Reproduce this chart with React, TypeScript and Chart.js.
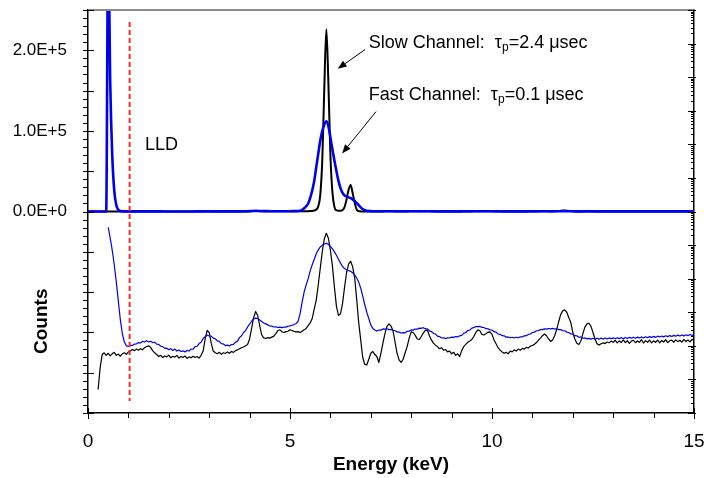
import { useEffect, useRef } from 'react';
import { Chart, registerables } from 'chart.js';

Chart.register(...registerables);

// Spectrum channels are 0.05 keV wide, starting at 0 keV.
const ENERGY_STEP_KEV = 0.05;

// Slow channel (shaping time 2.4 µs), counts per channel, 0.00 … 15.00 keV
const slowCounts = [
  0, 0, 0, 0, 0, 5, 22, 55, 62, 52, // 0.00
  60, 50, 58, 64, 52, 57, 49, 58, 62, 56, // 0.50
  66, 70, 78, 72, 80, 74, 82, 76, 88, 95, // 1.00
  100, 90, 72, 62, 55, 48, 52, 45, 50, 47, // 1.50
  53, 44, 49, 46, 52, 43, 48, 45, 50, 42, // 2.00
  47, 44, 49, 45, 48, 43, 52, 70, 160, 290, // 2.50
  250, 120, 70, 62, 58, 64, 56, 62, 59, 66, // 3.00
  60, 68, 64, 72, 76, 82, 88, 92, 100, 110, // 3.50
  160, 330, 700, 1050, 800, 400, 210, 172, 165, 175, // 4.00
  170, 182, 195, 230, 285, 300, 262, 250, 265, 272, // 4.50
  300, 285, 270, 260, 265, 250, 270, 300, 330, 400, // 5.00
  480, 650, 1250, 2300, 6600, 21000, 65000, 155000, 226000, 160000, // 5.50
  70000, 24000, 5500, 1500, 800, 900, 1800, 5500, 15000, 27000, // 6.00
  33000, 23000, 11000, 2500, 500, 150, 45, 28, 27, 40, // 6.50
  60, 68, 55, 48, 32, 60, 120, 230, 380, 450, // 7.00
  390, 280, 130, 60, 38, 32, 40, 62, 95, 170, // 7.50
  260, 250, 205, 160, 155, 190, 240, 290, 295, 200, // 8.00
  150, 120, 105, 95, 82, 88, 74, 78, 66, 70, // 8.50
  58, 64, 52, 58, 48, 72, 95, 110, 128, 140, // 9.00
  155, 190, 250, 300, 280, 220, 210, 230, 255, 260, // 9.50
  220, 150, 115, 88, 74, 66, 60, 64, 58, 70, // 10.00
  66, 76, 70, 80, 74, 84, 80, 90, 86, 98, // 10.50
  102, 112, 125, 148, 170, 200, 225, 200, 160, 135, // 11.00
  150, 200, 300, 520, 850, 1100, 1180, 1000, 700, 500, // 11.50
  250, 160, 120, 110, 140, 230, 360, 450, 470, 380, // 12.00
  250, 160, 115, 105, 115, 122, 118, 130, 124, 138, // 12.50
  128, 146, 122, 140, 126, 150, 124, 142, 119, 138, // 13.00
  146, 124, 140, 127, 152, 121, 143, 128, 147, 123, // 13.50
  141, 126, 149, 122, 145, 130, 153, 125, 142, 148, // 14.00
  128, 151, 133, 146, 129, 155, 134, 149, 131, 156, // 14.50
  142, // 15.00
];

// Fast channel (shaping time 0.1 µs), counts per channel, 0.00 … 15.00 keV
const fastCounts = [
  0, 0, 0, 0, 0, 0, 0, 0, 0, 0, // 0.00
  340000, 160000, 70000, 26000, 8000, 2200, 600, 230, 130, 100, // 0.50
  96, 104, 103, 113, 115, 125, 122, 136, 130, 141, // 1.00
  130, 137, 125, 128, 112, 111, 97, 95, 84, 85, // 1.50
  77, 82, 73, 80, 70, 75, 68, 71, 66, 73, // 2.00
  70, 80, 79, 95, 97, 117, 128, 165, 186, 210, // 2.50
  196, 194, 170, 162, 141, 136, 116, 114, 102, 105, // 3.00
  99, 109, 111, 128, 138, 175, 200, 250, 284, 365, // 3.50
  440, 540, 630, 670, 650, 590, 530, 480, 450, 420, // 4.00
  390, 386, 364, 368, 352, 361, 349, 364, 359, 386, // 4.50
  395, 410, 430, 460, 540, 900, 2000, 4000, 6500, 10000, // 5.00
  17000, 26000, 38000, 55000, 72000, 88000, 100000, 108000, 112000, 106000, // 5.50
  92000, 77000, 63000, 50000, 38000, 29000, 23000, 20000, 18500, 17500, // 6.00
  16500, 15000, 13000, 10500, 8000, 5200, 3000, 1700, 1000, 650, // 6.50
  420, 330, 295, 275, 296, 294, 318, 313, 322, 303, // 7.00
  306, 288, 286, 259, 256, 240, 246, 244, 271, 274, // 7.50
  297, 294, 317, 313, 337, 333, 347, 324, 316, 280, // 8.00
  266, 234, 225, 195, 189, 171, 174, 164, 174, 171, // 8.50
  182, 178, 189, 184, 199, 205, 235, 250, 286, 294, // 9.00
  336, 348, 377, 372, 382, 353, 351, 324, 321, 299, // 9.50
  296, 264, 256, 225, 220, 200, 199, 181, 184, 174, // 10.00
  180, 171, 180, 174, 186, 184, 199, 201, 219, 225, // 10.50
  250, 255, 281, 284, 306, 304, 321, 314, 328, 319, // 11.00
  331, 316, 324, 304, 306, 284, 281, 255, 250, 225, // 11.50
  222, 201, 199, 181, 182, 168, 172, 161, 167, 158, // 12.00
  168, 157, 169, 158, 170, 159, 171, 160, 172, 162, // 12.50
  173, 162, 174, 164, 176, 163, 178, 165, 179, 168, // 13.00
  181, 169, 182, 172, 184, 171, 186, 175, 188, 178, // 13.50
  191, 179, 194, 183, 196, 185, 199, 188, 202, 190, // 14.00
  205, 193, 208, 196, 211, 198, 214, 201, 217, 204, // 14.50
  215, // 15.00
];

// Lower level discriminator setting and the extent of its marker line
const LLD_KEV = 1.03;
const LLD_SPAN_COUNTS = [235000, -235000];

// Axis ranges: the left axis is linear, the right one logarithmic; both share the plot height
const X_RANGE_KEV = [0, 15];
const LIN_RANGE = [-250000, 250000];
const LOG_RANGE = [1, 1e12];

const FONT = '"Liberation Sans", Arial, Helvetica, sans-serif';
const BLUE = 'rgb(0,0,240)';
const BLACK = '#000000';

type Annotation = {
  parts: [string, boolean][];
  text: [number, number];
  tail?: [number, number];
  head?: [number, number];
};

// Labels placed in data coordinates (keV, linear counts)
const annotations: Annotation[] = [
  {
    parts: [['Slow Channel:  τ', false], ['p', true], ['=2.4 μsec', false]],
    text: [6.95, 209000],
    tail: [6.86, 201000],
    head: [6.18, 177000],
  },
  {
    parts: [['Fast Channel:  τ', false], ['p', true], ['=0.1 μsec', false]],
    text: [6.95, 144500],
    tail: [7.13, 124000],
    head: [6.29, 72000],
  },
  { parts: [['LLD', false]], text: [1.41, 82000] },
];

const energies = slowCounts.map((_, i) => Math.round(i * ENERGY_STEP_KEV * 100) / 100);

const linPoints = (counts: number[]) => counts.map((c, i) => ({ x: energies[i], y: c }));
const logPoints = (counts: number[]) =>
  counts.map((c, i) => ({ x: energies[i], y: c > 0 ? c : null }));

const fmtLin = (v: number) => {
  if (v < 0 || Math.abs(v % 100000) > 1) return '';
  return v === 0 ? '0.0E+0' : `${(v / 100000).toFixed(1)}E+5`;
};

// Fix each axis box size and drop the label overhang padding Chart.js reserves
const fixBox = (w?: number, h?: number) => (s: any) => {
  if (w !== undefined) s.width = w;
  if (h !== undefined) s.height = h;
  s.paddingTop = 0;
  s.paddingBottom = 0;
  s.paddingLeft = 0;
  s.paddingRight = 0;
};

const decorations = {
  id: 'decorations',
  afterDatasetsDraw(chart: any) {
    const { ctx, chartArea: a } = chart;
    const xs = chart.scales.x;
    const yl = chart.scales.yLin;
    const yg = chart.scales.yLog;
    const seg = (x1: number, y1: number, x2: number, y2: number) => {
      ctx.beginPath();
      ctx.moveTo(x1, y1);
      ctx.lineTo(x2, y2);
      ctx.stroke();
    };
    ctx.save();

    // top frame line
    ctx.strokeStyle = '#8c8c8c';
    ctx.lineWidth = 2;
    seg(a.left, a.top, a.right, a.top);

    ctx.strokeStyle = BLACK;
    ctx.lineWidth = 1;

    // left linear axis: majors every 5E+4, minors every 1E+4
    for (let k = LIN_RANGE[0] / 10000; k <= LIN_RANGE[1] / 10000; k++) {
      const y = Math.round(yl.getPixelForValue(k * 10000)) + 0.5;
      if (k % 5 === 0) seg(a.left - 5, y, a.left + 6, y);
      else seg(a.left - 5, y, a.left, y);
    }

    // right logarithmic axis: decades and 2..9 minors
    const decades = Math.round(Math.log10(LOG_RANGE[1] / LOG_RANGE[0]));
    for (let d = 0; d <= decades; d++) {
      const base = LOG_RANGE[0] * Math.pow(10, d);
      const y = Math.round(yg.getPixelForValue(base)) + 0.5;
      seg(a.right - 6, y, a.right + 2, y);
      if (d < decades) {
        for (let m = 2; m <= 9; m++) {
          const ym = Math.round(yg.getPixelForValue(base * m)) + 0.5;
          seg(a.right - 3, ym, a.right, ym);
        }
      }
    }

    // energy axis: majors every 5 keV, minors every 1 keV
    for (let e = X_RANGE_KEV[0]; e <= X_RANGE_KEV[1]; e++) {
      const x = Math.round(xs.getPixelForValue(e)) + 0.5;
      if (e % 5 === 0) seg(x, a.bottom - 5, x, a.bottom + 6);
      else seg(x, a.bottom, x, a.bottom + 5);
    }

    // y-axis title, centred on the logarithmic half
    ctx.save();
    ctx.translate(42, (yl.getPixelForValue(0) + a.bottom) / 2 + 9);
    ctx.rotate(-Math.PI / 2);
    ctx.fillStyle = BLACK;
    ctx.font = `bold 19px ${FONT}`;
    ctx.textAlign = 'center';
    ctx.textBaseline = 'middle';
    ctx.fillText('Counts', 0, 0);
    ctx.restore();

    // text labels and arrows
    ctx.fillStyle = BLACK;
    ctx.textBaseline = 'middle';
    ctx.textAlign = 'left';
    for (const an of annotations) {
      let x = xs.getPixelForValue(an.text[0]);
      const y = yl.getPixelForValue(an.text[1]);
      for (const [s, sub] of an.parts) {
        ctx.font = sub ? `12px ${FONT}` : `18px ${FONT}`;
        ctx.fillText(s, x, sub ? y + 5 : y);
        x += ctx.measureText(s).width;
      }
      if (an.tail && an.head) {
        const x1 = xs.getPixelForValue(an.tail[0]);
        const y1 = yl.getPixelForValue(an.tail[1]);
        const x2 = xs.getPixelForValue(an.head[0]);
        const y2 = yl.getPixelForValue(an.head[1]);
        const ang = Math.atan2(y2 - y1, x2 - x1);
        const len = 9;
        const hw = 3.5;
        const bx = x2 - len * Math.cos(ang);
        const by = y2 - len * Math.sin(ang);
        ctx.lineWidth = 1;
        seg(x1, y1, bx, by);
        ctx.beginPath();
        ctx.moveTo(x2, y2);
        ctx.lineTo(bx + hw * Math.sin(ang), by - hw * Math.cos(ang));
        ctx.lineTo(bx - hw * Math.sin(ang), by + hw * Math.cos(ang));
        ctx.closePath();
        ctx.fill();
      }
    }
    ctx.restore();
  },
};

export default function App() {
  const canvasRef = useRef<HTMLCanvasElement>(null);

  useEffect(() => {
    const canvas = canvasRef.current;
    if (!canvas) return;

    // linear view: smooth peaks; log view: raw channel-to-channel segments
    const linStyle = {
      pointRadius: 0,
      fill: false,
      cubicInterpolationMode: 'monotone' as const,
      borderJoinStyle: 'round' as const,
    };
    const logStyle = {
      pointRadius: 0,
      fill: false,
      tension: 0,
      borderJoinStyle: 'round' as const,
    };

    const chart = new Chart(canvas, {
      type: 'line',
      data: {
        datasets: [
          {
            label: 'LLD',
            data: [
              { x: LLD_KEV, y: LLD_SPAN_COUNTS[0] },
              { x: LLD_KEV, y: LLD_SPAN_COUNTS[1] },
            ],
            yAxisID: 'yLin',
            borderColor: '#ff2626',
            borderWidth: 2,
            borderDash: [5, 3],
            pointRadius: 0,
            tension: 0,
          },
          {
            label: 'Fast Channel (linear)',
            data: linPoints(fastCounts),
            yAxisID: 'yLin',
            borderColor: BLUE,
            borderWidth: 2.6,
            ...linStyle,
          },
          {
            label: 'Slow Channel (linear)',
            data: linPoints(slowCounts),
            yAxisID: 'yLin',
            borderColor: BLACK,
            borderWidth: 2,
            ...linStyle,
          },
          {
            label: 'Fast Channel (log)',
            data: logPoints(fastCounts),
            yAxisID: 'yLog',
            borderColor: BLUE,
            borderWidth: 1.2,
            ...logStyle,
          },
          {
            label: 'Slow Channel (log)',
            data: logPoints(slowCounts),
            yAxisID: 'yLog',
            borderColor: BLACK,
            borderWidth: 1.2,
            ...logStyle,
          },
        ],
      },
      options: {
        animation: false,
        responsive: false,
        devicePixelRatio: 1,
        layout: { padding: { top: 10, left: 0, right: 0, bottom: 0 } },
        plugins: { legend: { display: false }, tooltip: { enabled: false } },
        scales: {
          x: {
            type: 'linear',
            position: 'bottom',
            min: X_RANGE_KEV[0],
            max: X_RANGE_KEV[1],
            afterFit: fixBox(undefined, 65),
            grid: { display: false, drawTicks: false },
            border: { display: true, color: BLACK, width: 1.5 },
            ticks: {
              stepSize: 5,
              autoSkip: false,
              maxRotation: 0,
              color: BLACK,
              padding: 17,
              font: { family: FONT, size: 19 },
            },
            title: {
              display: true,
              text: 'Energy (keV)',
              color: BLACK,
              font: { family: FONT, size: 19, weight: 'bold' },
              padding: { top: 0, bottom: 2 },
            },
          },
          yLin: {
            type: 'linear',
            position: 'left',
            min: LIN_RANGE[0],
            max: LIN_RANGE[1],
            afterFit: fixBox(88, undefined),
            grid: { display: false, drawTicks: false },
            border: { display: true, color: BLACK, width: 1.5 },
            ticks: {
              stepSize: 50000,
              autoSkip: false,
              color: BLACK,
              padding: 21,
              font: { family: FONT, size: 17 },
              callback: (v: any) => fmtLin(Number(v)),
            },
          },
          yLog: {
            type: 'logarithmic',
            position: 'right',
            min: LOG_RANGE[0],
            max: LOG_RANGE[1],
            afterFit: fixBox(10, undefined),
            grid: { display: false, drawTicks: false },
            border: { display: true, color: BLACK, width: 1.5 },
            ticks: { display: false },
          },
        },
      },
      plugins: [decorations],
    });

    return () => chart.destroy();
  }, []);

  return (
    <div
      style={{
        position: 'fixed',
        left: 0,
        top: 0,
        width: 704,
        height: 478,
        background: '#ffffff',
      }}
    >
      <canvas ref={canvasRef} width={704} height={478} style={{ display: 'block' }} />
    </div>
  );
}
